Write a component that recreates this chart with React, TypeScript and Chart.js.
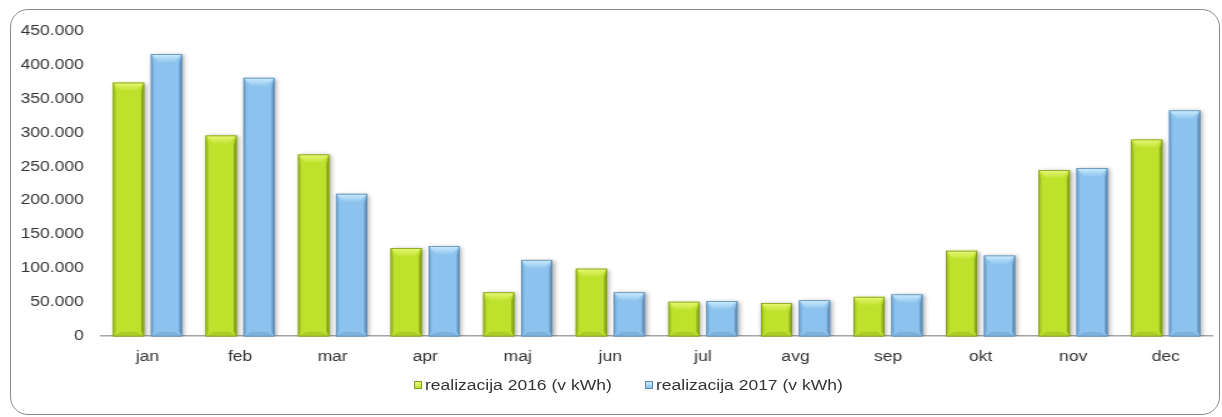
import React, { useEffect, useRef } from "react";
import { Chart, registerables } from "chart.js";

Chart.register(...registerables);

const categories = ["jan", "feb", "mar", "apr", "maj", "jun", "jul", "avg", "sep", "okt", "nov", "dec"];
const realizacija2016 = [374000, 296000, 268000, 130000, 64700, 99600, 50800, 49000, 58000, 126000, 245000, 290000];
const realizacija2017 = [416000, 381000, 210000, 133000, 112500, 64700, 51800, 53000, 61700, 119000, 248000, 333000];
const seriesLabels = ["realizacija 2016 (v kWh)", "realizacija 2017 (v kWh)"];
const yMin = 0;
const yMax = 450000;
const yStep = 50000;

const SX = 1.25; // horizontal stretch of the reference
const W = 1222;
const H = 417;
const CW = Math.round(W / SX);
const FONT_FAMILY = "'Liberation Sans', Arial, sans-serif";

const palettes = [
  { main: "#BEE22C", top: "#E9F878", right: "#8FAB1E", left: "#A8C927", bottom: "#ABCC27", edge: "#7F9A1A" },
  { main: "#8CC3EE", top: "#CDEDFD", right: "#6898C2", left: "#7BB0DB", bottom: "#7CB1DC", edge: "#5D89AF" },
];

function fmt(v: number): string {
  const s = Math.round(v).toString();
  return s.replace(/\B(?=(\d{3})+(?!\d))/g, ".");
}

const bevelPlugin = {
  id: "bevel",
  beforeDatasetsDraw(chart: any) {
    const ctx = chart.ctx;
    ctx.save();
    ctx.shadowColor = "rgba(0,0,0,0.35)";
    ctx.shadowBlur = 4;
    ctx.shadowOffsetX = 1.5;
    ctx.shadowOffsetY = 1;
  },
  afterDatasetsDraw(chart: any) {
    const ctx = chart.ctx;
    ctx.restore();
    chart.data.datasets.forEach((_ds: any, di: number) => {
      const meta = chart.getDatasetMeta(di);
      const p = palettes[di];
      meta.data.forEach((bar: any) => {
        const { x, y, base, width } = bar.getProps(["x", "y", "base", "width"], true);
        const l = x - width / 2;
        const r = x + width / 2;
        const t = Math.min(y, base);
        const b = Math.max(y, base);
        const h = b - t;
        const by = Math.min(9, h / 2.5);
        const bx = Math.min(6.5, width / 3);
        const sw = 2.4;
        ctx.save();
        ctx.fillStyle = p.left;
        ctx.beginPath();
        ctx.moveTo(l, t);
        ctx.lineTo(l + sw, t + by);
        ctx.lineTo(l + sw, b - by / 2);
        ctx.lineTo(l, b);
        ctx.closePath();
        ctx.fill();
        ctx.fillStyle = p.right;
        ctx.beginPath();
        ctx.moveTo(r, t);
        ctx.lineTo(r - sw, t + by);
        ctx.lineTo(r - sw, b - by / 2);
        ctx.lineTo(r, b);
        ctx.closePath();
        ctx.fill();
        ctx.fillStyle = p.bottom;
        ctx.beginPath();
        ctx.moveTo(l, b);
        ctx.lineTo(l + bx, b - by / 2);
        ctx.lineTo(r - bx, b - by / 2);
        ctx.lineTo(r, b);
        ctx.closePath();
        ctx.fill();
        const g = ctx.createLinearGradient(0, t, 0, t + by);
        g.addColorStop(0, p.top);
        g.addColorStop(1, p.main);
        ctx.fillStyle = g;
        ctx.beginPath();
        ctx.moveTo(l, t);
        ctx.lineTo(r, t);
        ctx.lineTo(r - bx, t + by);
        ctx.lineTo(l + bx, t + by);
        ctx.closePath();
        ctx.fill();
        ctx.strokeStyle = p.edge;
        ctx.lineWidth = 0.8;
        ctx.strokeRect(l + 0.4, t + 0.4, width - 0.8, h - 0.4);
        ctx.restore();
      });
    });
  },
};

export default function App() {
  const ref = useRef<HTMLCanvasElement | null>(null);
  useEffect(() => {
    if (!ref.current) return;
    const font = { family: FONT_FAMILY, size: 14 };
    const chart = new Chart(ref.current, {
      type: "bar",
      data: {
        labels: categories,
        datasets: [
          {
            label: seriesLabels[0],
            data: realizacija2016,
            backgroundColor: palettes[0].main,
            borderWidth: 0,
            categoryPercentage: 0.82,
            barPercentage: 0.82,
          },
          {
            label: seriesLabels[1],
            data: realizacija2017,
            backgroundColor: palettes[1].main,
            borderWidth: 0,
            categoryPercentage: 0.82,
            barPercentage: 0.82,
          },
        ],
      },
      options: {
        responsive: false,
        animation: false,
        devicePixelRatio: 1,
        layout: { padding: { left: 0, right: 8, top: 31, bottom: 38 } },
        scales: {
          x: {
            grid: { display: false, drawTicks: false },
            border: { display: true, color: "#A6A6A6", width: 1.5 },
            ticks: { color: "#333333", font, padding: 13 },
          },
          y: {
            min: yMin,
            max: yMax,
            grid: { display: false, drawTicks: false },
            border: { display: false },
            ticks: {
              stepSize: yStep,
              color: "#333333",
              font,
              padding: 14,
              callback: (v: any) => fmt(Number(v)),
            },
            afterFit: (scale: any) => {
              scale.width = 81;
            },
          },
        },
        plugins: {
          legend: { display: false },
          tooltip: { enabled: false },
        },
      },
      plugins: [bevelPlugin],
    });
    return () => chart.destroy();
  }, []);

  const legendItems = [
    { label: seriesLabels[0], color: palettes[0].main, light: palettes[0].top, edge: palettes[0].edge, left: 414 },
    { label: seriesLabels[1], color: palettes[1].main, light: palettes[1].top, edge: palettes[1].edge, left: 645 },
  ];

  return (
    <div style={{ position: "fixed", left: 0, top: 0, width: W, height: H, background: "#fff", overflow: "hidden" }}>
      <div
        style={{
          position: "absolute",
          left: 10,
          top: 9,
          width: 1210,
          height: 406,
          boxSizing: "border-box",
          border: "1.5px solid #8A8A8A",
          borderRadius: 18,
        }}
      />
      <canvas
        ref={ref}
        width={CW}
        height={H}
        style={{ position: "absolute", left: 0, top: 0, width: W, height: H }}
      />
      {legendItems.map((it) => (
        <div
          key={it.label}
          style={{
            position: "absolute",
            left: it.left,
            top: 376,
            height: 18,
            display: "flex",
            alignItems: "center",
            whiteSpace: "nowrap",
          }}
        >
          <div
            style={{
              width: 8,
              height: 8,
              boxSizing: "border-box",
              border: `1px solid ${it.edge}`,
              background: `linear-gradient(${it.light}, ${it.color})`,
              marginRight: 3,
            }}
          />
          <span
            style={{
              fontFamily: FONT_FAMILY,
              fontSize: 14,
              color: "#333333",
              display: "inline-block",
              transform: `scaleX(${SX})`,
              transformOrigin: "left center",
            }}
          >
            {it.label}
          </span>
        </div>
      ))}
    </div>
  );
}
